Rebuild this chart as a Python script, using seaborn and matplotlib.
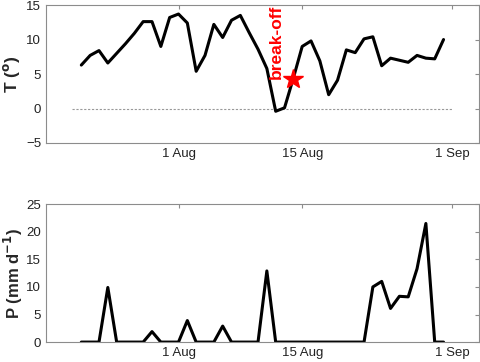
import matplotlib
matplotlib.use("Agg")
import matplotlib.dates as mdates
import matplotlib.pyplot as plt
import numpy as np
import pandas as pd
import seaborn as sns

# daily series, 21 Jul - 31 Aug
dates = pd.date_range("2013-07-21", "2013-08-31", freq="D")
temperature = [
    6.3, 7.7, 8.4, 6.6, 8.0, 9.4, 10.9, 12.6, 12.6, 9.0, 13.2,
    13.7, 12.4, 5.4, 7.7, 12.2, 10.3, 12.8, 13.5, 11.0, 8.6, 5.8,
    -0.4, 0.1, 4.4, 9.0, 9.8, 6.9, 2.0, 4.1, 8.5, 8.1, 10.1, 10.4,
    6.2, 7.3, 7.0, 6.7, 7.7, 7.3, 7.2, 10.0,
]
precip = [
    0, 0, 0, 9.9, 0, 0, 0, 0, 1.9, 0, 0,
    0, 3.9, 0, 0, 0, 2.9, 0, 0, 0, 0, 12.9,
    0, 0, 0, 0, 0, 0, 0, 0, 0, 0, 0, 10.0,
    11.0, 6.1, 8.3, 8.2, 13.3, 21.5, 0, 0,
]
breakoff_date = pd.Timestamp("2013-08-14")
breakoff_temp = 4.3

tick_dates = pd.to_datetime(["2013-08-01", "2013-08-15", "2013-09-01"])
tick_labels = ["1 Aug", "15 Aug", "1 Sep"]
zero_line = pd.to_datetime(["2013-07-20", "2013-09-01"])

df = pd.DataFrame({"date": dates, "T": temperature, "P": precip})

sns.set_style("white")
plt.rcParams["font.family"] = ["Liberation Sans", "DejaVu Sans"]

fig = plt.figure(figsize=(4.81, 3.62), dpi=100)
ax_t = fig.add_axes([0.0956, 0.605, 0.900, 0.381])
ax_p = fig.add_axes([0.0956, 0.055, 0.900, 0.381])

spine_col = "#8c8c8c"
xlim = (pd.Timestamp("2013-07-17"), pd.Timestamp("2013-09-04"))

sns.lineplot(data=df, x="date", y="T", ax=ax_t, color="black", linewidth=2.2)
ax_t.plot(zero_line, [0, 0], ls=(0, (2, 1.5)), color="#999999", lw=0.8, zorder=1)
ax_t.plot([breakoff_date], [breakoff_temp], marker="*", color="red",
          markersize=15, ls="none", zorder=5)
ax_t.text(breakoff_date - pd.Timedelta(days=1.9), breakoff_temp, "break-off",
          color="red", rotation=90, ha="center", va="bottom",
          fontsize=12.5, fontweight="bold")
ax_t.set_ylim(-5, 15)
ax_t.set_yticks([-5, 0, 5, 10, 15])
ax_t.set_ylabel(r"T ($\mathbf{^o}$)", fontsize=12.5, fontweight="bold", labelpad=3)

sns.lineplot(data=df, x="date", y="P", ax=ax_p, color="black", linewidth=2.2)
ax_p.set_ylim(0, 25)
ax_p.set_yticks([0, 5, 10, 15, 20, 25])
ax_p.set_ylabel(r"P (mm d$\mathbf{^{-1}}$)", fontsize=12, fontweight="bold", labelpad=1)

for ax in (ax_t, ax_p):
    ax.set_xlim(xlim)
    ax.set_xticks(tick_dates)
    ax.set_xticklabels(tick_labels)
    ax.set_xlabel("")
    ax.tick_params(direction="in", length=3, width=0.8, color=spine_col,
                   labelsize=9.5, labelcolor="#222222", top=True, right=True)
    for s in ax.spines.values():
        s.set_color(spine_col)
        s.set_linewidth(0.8)
        s.set_visible(True)

fig.savefig("out.png", dpi=100)
